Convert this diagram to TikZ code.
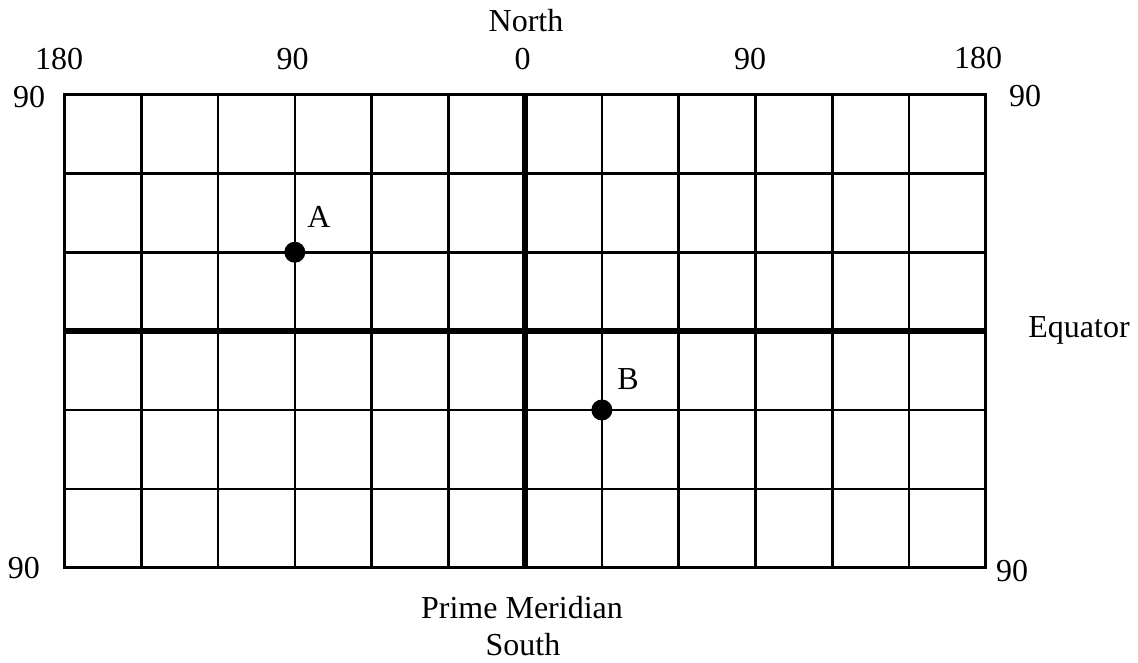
\documentclass[tikz,border=0pt]{standalone}
\usepackage{fontspec}
\setmainfont{Liberation Serif}
\usetikzlibrary{positioning}

\begin{document}
\begin{tikzpicture}[x=1pt, y=-1pt, font=\fontsize{32}{38}\selectfont,
  gridline/.style={line width=2.6pt},
  axisline/.style={line width=5.6pt},
  lbl/.style={anchor=base, inner sep=0pt},
  dot/.style={circle, fill=black, inner sep=0pt, minimum size=21pt}]
\useasboundingbox (0,0) rectangle (1138,663);
\def\cw{76.77}
\def\ch{78.87}
% grid corners
\coordinate (nw) at (64.5,94.5);
\coordinate (se) at (985.7,567.7);
\foreach \i in {1,...,11} \draw[gridline] (64.5+\i*\cw,94.5) -- (64.5+\i*\cw,567.7);
\foreach \j in {1,...,5} \draw[gridline] (64.5,94.5+\j*\ch) -- (985.7,94.5+\j*\ch);
\draw[gridline] (nw) rectangle (se);
% equator and prime meridian
\coordinate (eqw) at (64.5,94.5+3*\ch);
\coordinate (eqe) at (985.7,94.5+3*\ch);
\coordinate (pmn) at (64.5+6*\cw,94.5);
\coordinate (pms) at (64.5+6*\cw,567.7);
\draw[axisline] (eqw) -- (eqe);
\draw[axisline] (pmn) -- (pms);
% points
\node[dot] (ptA) at (64.5+3*\cw,94.5+2*\ch) {};
\node[dot] (ptB) at (64.5+7*\cw,94.5+4*\ch) {};
\node[lbl] (labA) at (319,228) {A};
\node[lbl] (labB) at (628,389) {B};
% labels
\node[lbl] (north) at (526,32) {North};
\node[lbl] (lonwa) at (59,70) {180};
\node[lbl] (lonwb) at (292.5,70) {90};
\node[lbl] (lonz) at (522.5,70) {0};
\node[lbl] (lonea) at (750,70) {90};
\node[lbl] (loneb) at (978,69) {180};
\node[lbl] (latnw) at (29,108) {90};
\node[lbl] (latne) at (1025,107) {90};
\node[lbl] (latsw) at (24,578) {90};
\node[lbl] (latse) at (1012,581) {90};
\node[lbl] (equator) at (1079,337) {Equator};
\node[lbl] (prime) at (522,618) {Prime Meridian};
\node[lbl] (south) at (523,655) {South};
\end{tikzpicture}
\end{document}
